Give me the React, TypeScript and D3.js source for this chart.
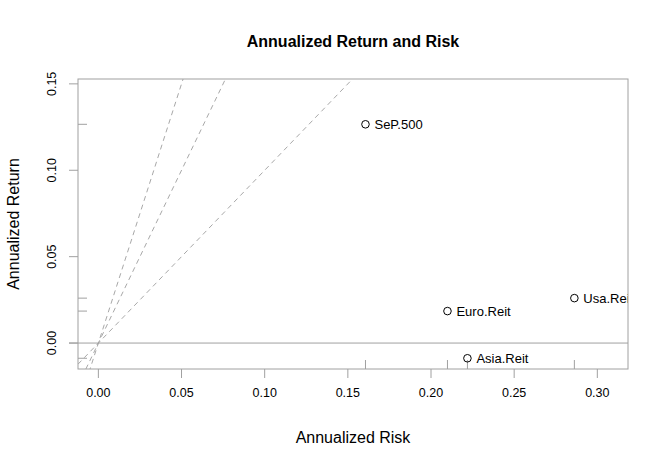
import React from "react";
import * as d3 from "d3";

const names = ["SeP.500", "Euro.Reit", "Asia.Reit", "Usa.Reit"];
const risks = [0.1606, 0.2099, 0.2219, 0.2862];
const returns = [0.1266, 0.0185, -0.0088, 0.026];
const sharpeSlopes = [1, 2, 3];
const xTicks = [0, 0.05, 0.1, 0.15, 0.2, 0.25, 0.3];
const yTicks = [0, 0.05, 0.1, 0.15];

const W = 668;
const H = 467;
const L = 78, R = 628, T = 79, B = 369;

function extend(lo: number, hi: number): [number, number] {
  const r = hi - lo;
  return [lo - 0.04 * r, hi + 0.04 * r];
}

export default function App() {
  const xDom = extend(0, d3.max(risks)! + 0.02);
  const yDom = extend(Math.min(0, d3.min(returns)!), d3.max(returns)! + 0.02);
  const x = d3.scaleLinear().domain(xDom).range([L, R]);
  const y = d3.scaleLinear().domain(yDom).range([B, T]);
  const gray = "#a0a0a0";
  const font = "Liberation Sans, Arial, sans-serif";
  const line = d3.line<[number, number]>().x((d) => x(d[0])).y((d) => y(d[1]));

  return (
    <svg width={W} height={H} style={{ position: "absolute", left: 0, top: 0, background: "#fff" }} fontFamily={font}>
      <defs>
        <clipPath id="plot">
          <rect x={L} y={T} width={R - L} height={B - T} />
        </clipPath>
      </defs>
      <rect x={0} y={0} width={W} height={H} fill="#fff" />
      <text x={(L + R) / 2} y={47} textAnchor="middle" fontWeight="bold" fontSize={16}>
        Annualized Return and Risk
      </text>
      <g clipPath="url(#plot)">
        {sharpeSlopes.map((s) => (
          <path
            key={s}
            d={line([[xDom[0], xDom[0] * s], [xDom[1], xDom[1] * s]])!}
            stroke="#a8a8a8"
            strokeWidth={1}
            strokeDasharray="5,4"
            fill="none"
          />
        ))}
        <line x1={L} x2={R} y1={y(0)} y2={y(0)} stroke={gray} strokeWidth={1} />
        {returns.map((v, i) => (
          <line key={"ry" + i} x1={L} x2={L + 9} y1={y(v)} y2={y(v)} stroke={gray} strokeWidth={1} />
        ))}
        {risks.map((v, i) => (
          <line key={"rx" + i} x1={x(v)} x2={x(v)} y1={B} y2={B - 9} stroke={gray} strokeWidth={1} />
        ))}
        {names.map((n, i) => (
          <g key={n}>
            <circle cx={x(risks[i])} cy={y(returns[i])} r={3.8} fill="none" stroke="#000" strokeWidth={1} />
            <text x={x(risks[i]) + 9} y={y(returns[i])} dy="0.35em" fontSize={13} fill="#000">
              {n}
            </text>
          </g>
        ))}
      </g>
      <rect x={L} y={T} width={R - L} height={B - T} fill="none" stroke={gray} strokeWidth={1} />
      <line x1={L - 9} x2={L} y1={y(0)} y2={y(0)} stroke={gray} />
      {xTicks.map((t) => (
        <g key={"xt" + t}>
          <line x1={x(t)} x2={x(t)} y1={B} y2={B + 9} stroke={gray} />
          <text x={x(t)} y={B + 28} textAnchor="middle" fontSize={12.5} fill="#000">
            {t.toFixed(2)}
          </text>
        </g>
      ))}
      {yTicks.map((t) => (
        <g key={"yt" + t}>
          <line x1={L - 9} x2={L} y1={y(t)} y2={y(t)} stroke={gray} />
          <text
            transform={`translate(${L - 22},${y(t)}) rotate(-90)`}
            textAnchor="middle"
            fontSize={12.5}
            fill="#000"
          >
            {t.toFixed(2)}
          </text>
        </g>
      ))}
      <text x={(L + R) / 2} y={443} textAnchor="middle" fontSize={16} fill="#000">
        Annualized Risk
      </text>
      <text transform={`translate(19,${(T + B) / 2}) rotate(-90)`} textAnchor="middle" fontSize={16} fill="#000">
        Annualized Return
      </text>
    </svg>
  );
}
